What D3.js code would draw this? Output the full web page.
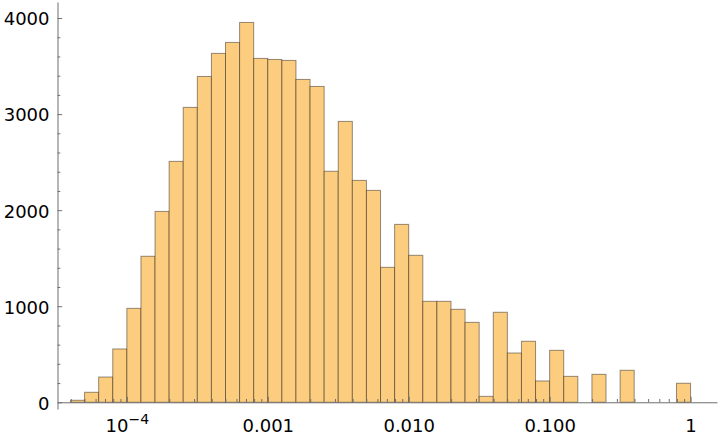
<!DOCTYPE html>
<html>
<head>
<meta charset="utf-8">
<script src="https://cdn.jsdelivr.net/npm/d3@7"></script>
<style>
  body { margin: 0; background: #fff; }
  svg { display: block; }
  .tick text { font-family: "DejaVu Sans", sans-serif; font-size: 18px; fill: #000; }
</style>
</head>
<body>
<svg id="chart" width="720" height="438"></svg>
<script>
// histogram bins: log10 of the first left edge and the bin width in log10 units
var binStart = -4.4
var binWidth = 0.1

// counts per bin
var counts = [21, 104, 263, 555, 978, 1520, 1987, 2508, 3070, 3392,
              3632, 3746, 3954, 3580, 3569, 3559, 3361, 3288, 2405, 2924,
              2310, 2206, 1405, 1852, 1530, 1051, 1051, 968, 832, 62,
              937, 513, 635, 222, 541, 270, 0, 291, 0, 333,
              0, 0, 0, 198]

// axis extents and ticks
var xExtent = [3.22e-5, 1.54]
var yExtent = [-70, 4167]
var xMajor = [1e-4, 1e-3, 1e-2, 1e-1, 1]
var xMajorLabels = ["10^-4", "0.001", "0.010", "0.100", "1"]
var yMajor = [0, 1000, 2000, 3000, 4000]
var yMinorStep = 200

var svg = d3.select("#chart")
var axisColor = "#6f6f6f"

var x = d3.scaleLog().domain(xExtent).range([57.5, 717])
var y = d3.scaleLinear().domain(yExtent).range([409, 2])

var bins = counts.map(function(c, i) {
    var lo = binStart + i * binWidth
    return { x0: Math.pow(10, lo), x1: Math.pow(10, lo + binWidth), count: c }
}).filter(function(d) { return d.count > 0 })

svg.append("g")
    .selectAll("rect")
    .data(bins)
    .enter().append("rect")
    .attr("x", function(d) { return x(d.x0) })
    .attr("width", function(d) { return x(d.x1) - x(d.x0) })
    .attr("y", function(d) { return y(d.count) })
    .attr("height", function(d) { return y(0) - y(d.count) })
    .attr("fill", "#fdcd7f")
    .attr("stroke", "#000")
    .attr("stroke-opacity", 0.42)
    .attr("stroke-width", 1)

// minor ticks on the log axis: 2..9 times each decade
var xMinor = []
for (var e = -5; e <= 0; e++) {
    for (var m = 2; m <= 9; m++) {
        var v = m * Math.pow(10, e)
        if (v > xExtent[0] && v < xExtent[1]) xMinor.push(v)
    }
}
var yMinor = d3.range(yMinorStep, 4200, yMinorStep).filter(function(v) { return yMajor.indexOf(v) < 0 && v < yExtent[1] })

var y0 = y(0)

// x axis
var gxMinor = svg.append("g").attr("transform", "translate(0," + y0 + ")")
    .call(d3.axisBottom(x).tickValues(xMinor).tickSize(-3.3).tickFormat(""))
gxMinor.select(".domain").remove()

var gx = svg.append("g").attr("transform", "translate(0," + y0 + ")")
    .call(d3.axisBottom(x).tickValues(xMajor).tickSizeInner(-5.5).tickSizeOuter(0)
        .tickPadding(16.6).tickFormat(function(d, i) { return xMajorLabels[i] }))

gx.selectAll(".tick text").each(function(d, i) {
    var lab = xMajorLabels[i]
    if (lab.indexOf("^") >= 0) {
        var parts = lab.split("^")
        var t = d3.select(this).text("")
        t.append("tspan").text(parts[0])
        t.append("tspan").attr("font-size", "14px").attr("dy", "-8").text(parts[1].replace("-", "\u2212"))
    }
})

// y axis
var gyMinor = svg.append("g").attr("transform", "translate(57.5,0)")
    .call(d3.axisLeft(y).tickValues(yMinor).tickSize(-2.8).tickFormat(""))
gyMinor.select(".domain").remove()

var gy = svg.append("g").attr("transform", "translate(57.5,0)")
    .call(d3.axisLeft(y).tickValues(yMajor).tickSizeInner(-4.6).tickSizeOuter(0)
        .tickPadding(8).tickFormat(d3.format("d")))
gy.selectAll(".tick text").attr("dy", "0.38em")

svg.selectAll(".domain, .tick line").attr("stroke", axisColor)
</script>
</body>
</html>
